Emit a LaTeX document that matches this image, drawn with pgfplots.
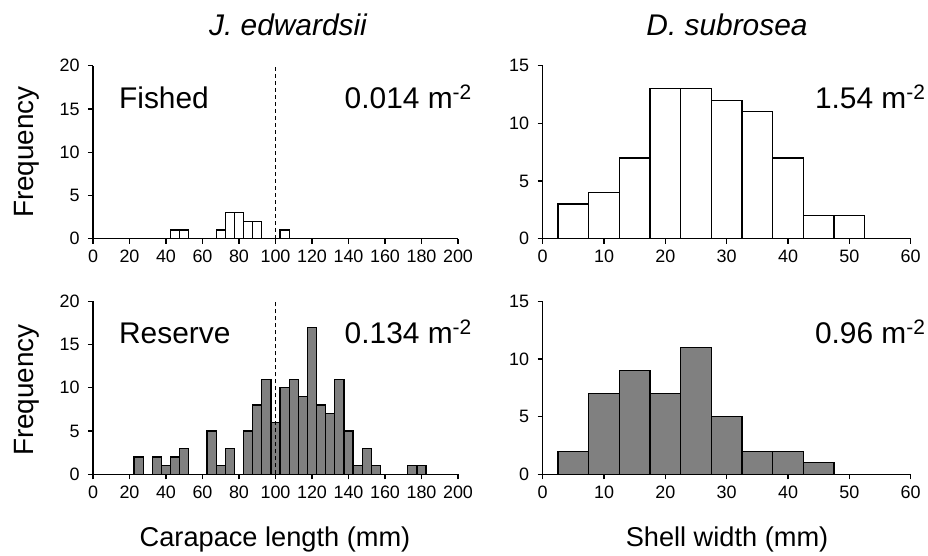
\documentclass[border=0pt]{standalone}
\usepackage{fontspec}
\setmainfont{Liberation Sans}
\usepackage{pgfplots}
\pgfplotsset{compat=1.18}
\definecolor{bargray}{RGB}{128,128,128}
\tikzset{big/.style={font=\fontsize{30}{30}\selectfont, inner sep=0pt}}
\pgfplotsset{
  histo/.style={
    scale only axis,
    axis x line*=bottom, axis y line*=left,
    axis line style={-, line width=1.3pt, black},
    tick align=outside,
    major tick length=5bp,
    tick style={line width=1.3pt, black},
    ymin=0,
    /pgf/number format/assume math mode=true,
    ticklabel style={font=\fontsize{18}{18}\selectfont},
    xticklabel style={yshift=-3bp},
    yticklabel style={xshift=-5bp},
    ybar, bar width=5,
    clip=false,
  },
  leftaxis/.style={histo, width=365bp, height=173bp, xmin=0, xmax=200, xtick={0,20,...,200}, ymax=20, ytick={0,5,10,15,20}},
  rightaxis/.style={histo, width=368bp, height=173bp, xmin=0, xmax=60, xtick={0,10,...,60}, ymax=15, ytick={0,5,10,15}},
  whitebar/.style={draw=black, fill=white, line width=1.3pt},
  graybar/.style={draw=black, fill=bargray, line width=1.3pt},
  dline/.style={sharp plot, dash pattern=on 4bp off 3bp, line width=1.2pt, black, forget plot},
}
\begin{document}
\begin{tikzpicture}
\useasboundingbox (0,0) rectangle (928bp,556bp);
% top-left
\begin{axis}[leftaxis, at={(93bp,317.3bp)}, anchor=south west]
\addplot[whitebar] coordinates {(45,1)(50,1)(70,1)(75,3)(80,3)(85,2)(90,2)(105,1)};
\addplot[dline] coordinates {(100,0)(100,20)};
\node[big, anchor=base west] at (rel axis cs:0.071,0.755) {Fished};
\node[big, anchor=base east, xshift=14bp] at (rel axis cs:1.0,0.755) {0.014 m\textsuperscript{-2}};
\end{axis}
% bottom-left
\begin{axis}[leftaxis, at={(93bp,81.7bp)}, anchor=south west]
\addplot[graybar] coordinates {(25,2)(35,2)(40,1)(45,2)(50,3)(65,5)(70,1)(75,3)(85,5)(90,8)(95,11)(100,6)(105,10)(110,11)(115,9)(120,17)(125,8)(130,7)(135,11)(140,5)(145,1)(150,3)(155,1)(175,1)(180,1)};
\addplot[dline] coordinates {(100,0)(100,20)};
\node[big, anchor=base west] at (rel axis cs:0.071,0.755) {Reserve};
\node[big, anchor=base east, xshift=14bp] at (rel axis cs:1.0,0.755) {0.134 m\textsuperscript{-2}};
\end{axis}
% top-right
\begin{axis}[rightaxis, at={(542.7bp,317.3bp)}, anchor=south west]
\addplot[whitebar] coordinates {(5,3)(10,4)(15,7)(20,13)(25,13)(30,12)(35,11)(40,7)(45,2)(50,2)};
\node[big, anchor=base east, xshift=15bp] at (rel axis cs:1.0,0.755) {1.54 m\textsuperscript{-2}};
\end{axis}
% bottom-right
\begin{axis}[rightaxis, at={(542.7bp,81.7bp)}, anchor=south west]
\addplot[graybar] coordinates {(5,2)(10,7)(15,9)(20,7)(25,11)(30,5)(35,2)(40,2)(45,1)};
\node[big, anchor=base east, xshift=15bp] at (rel axis cs:1.0,0.755) {0.96 m\textsuperscript{-2}};
\end{axis}
% titles and labels
\node[font=\fontsize{30}{30}\selectfont\itshape] at (288bp,531bp) {J. edwardsii};
\node[font=\fontsize{30}{30}\selectfont\itshape] at (727bp,531bp) {D. subrosea};
\node[font=\fontsize{28}{28}\selectfont, rotate=90] at (27bp,404bp) {Frequency};
\node[font=\fontsize{28}{28}\selectfont, rotate=90] at (27bp,166bp) {Frequency};
\node[font=\fontsize{27.3}{27.3}\selectfont] at (275bp,17bp) {Carapace length (mm)};
\node[font=\fontsize{27.3}{27.3}\selectfont] at (727bp,17bp) {Shell width (mm)};
\end{tikzpicture}
\end{document}
